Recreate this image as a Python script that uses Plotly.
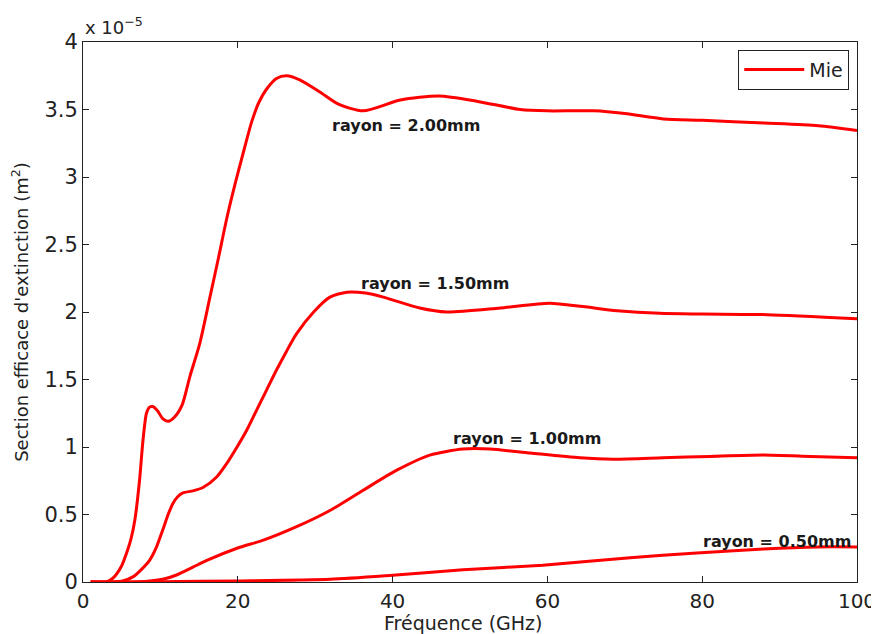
import plotly.graph_objects as go

# Frequency (GHz) and extinction cross-section (units of 1e-5 m^2), per radius
freq_r200 = [1, 3, 3.9, 5.0, 5.6, 6.2, 6.7, 7.3, 7.75, 8.2, 8.6, 9.0, 9.6, 10.3, 11.0, 11.8,
             12.8, 13.8, 15.1, 16.4, 17.5, 18.6, 19.7, 20.8, 21.8, 22.7, 23.7, 25.0, 26.3,
             28.0, 30.6, 33.0, 36.2, 41.0, 46.0, 51.0, 56.5, 60.0, 66.0, 70.0, 75.0, 80.0,
             88.0, 95.0, 100.0]
sigma_r200 = [0, 0, 0.03, 0.12, 0.21, 0.32, 0.46, 0.75, 1.05, 1.25, 1.295, 1.30, 1.27, 1.21,
              1.19, 1.22, 1.31, 1.52, 1.77, 2.11, 2.40, 2.70, 2.96, 3.20, 3.41, 3.55, 3.65,
              3.73, 3.75, 3.72, 3.63, 3.54, 3.49, 3.57, 3.60, 3.56, 3.50, 3.49, 3.49, 3.47,
              3.43, 3.42, 3.40, 3.38, 3.345]

freq_r150 = [1, 4, 5, 6.5, 7.5, 8.6, 9.5, 10.3, 11.0, 11.6, 12.2, 12.9, 14.2, 15.5, 17.3,
             18.6, 19.9, 21.2, 22.4, 23.7, 25.0, 26.3, 27.6, 29.8, 31.9, 34.1, 36.5, 38.8,
             43.5, 47, 53.9, 60.3, 64.6, 69, 74.5, 80, 88.4, 100]
sigma_r150 = [0, 0, 0.005, 0.04, 0.09, 0.16, 0.26, 0.385, 0.50, 0.58, 0.63, 0.66, 0.675, 0.70,
              0.78, 0.88, 1.00, 1.13, 1.27, 1.42, 1.57, 1.71, 1.84, 2.00, 2.11, 2.147, 2.14,
              2.11, 2.03, 2.00, 2.03, 2.065, 2.04, 2.01, 1.99, 1.985, 1.98, 1.95]

freq_r100 = [1, 7, 10.3, 12.0, 14.2, 16, 19.9, 23.3, 27.6, 31.9, 36.2, 40.6, 44.8, 49.1, 52.6,
             57.8, 64.2, 68.5, 74.9, 81, 87.9, 94, 100]
sigma_r100 = [0, 0.0, 0.02, 0.05, 0.11, 0.16, 0.25, 0.31, 0.41, 0.53, 0.68, 0.83, 0.94, 0.985,
              0.985, 0.955, 0.92, 0.91, 0.92, 0.93, 0.94, 0.93, 0.92]

freq_r050 = [1, 10, 20, 31.9, 40, 49.1, 59.4, 70.7, 79.3, 87.9, 95, 100]
sigma_r050 = [0, 0.002, 0.008, 0.02, 0.05, 0.09, 0.125, 0.18, 0.215, 0.245, 0.26, 0.26]

series = [
    (freq_r200, sigma_r200),
    (freq_r150, sigma_r150),
    (freq_r100, sigma_r100),
    (freq_r050, sigma_r050),
]

label_texts = ["rayon = 2.00mm", "rayon = 1.50mm", "rayon = 1.00mm", "rayon = 0.50mm"]
label_anchor_x = [41.7, 45.5, 57.3, 89.6]
label_anchor_y = [3.38, 2.21, 1.066, 0.30]

x_ticks = [0, 20, 40, 60, 80, 100]
y_ticks = [0, 0.5, 1, 1.5, 2, 2.5, 3, 3.5, 4]
y_tick_text = ["0", "0.5", "1", "1.5", "2", "2.5", "3", "3.5", "4"]

FONT = "DejaVu Sans"
fig = go.Figure()
for i, (fx, sy) in enumerate(series):
    fig.add_trace(go.Scatter(
        x=fx, y=sy, mode="lines", name="Mie",
        line=dict(color="#ff0000", width=3, shape="spline", smoothing=0.7),
        showlegend=(i == 0),
    ))

for t, ax_, ay_ in zip(label_texts, label_anchor_x, label_anchor_y):
    fig.add_annotation(x=ax_, y=ay_, xref="x", yref="y", text="<b>%s</b>" % t,
                       showarrow=False, font=dict(family=FONT, size=16, color="#1a1a1a"),
                       xanchor="center", yanchor="middle")

fig.add_annotation(x=0, y=1, xref="paper", yref="paper", text="x 10<sup>\u22125</sup>",
                   showarrow=False, xanchor="left", yanchor="bottom", yshift=2,
                   font=dict(family=FONT, size=18, color="#222222"))

fig.add_annotation(x=0.491, y=0, xref="paper", yref="paper", text="Fréquence (GHz)",
                   showarrow=False, xanchor="center", yanchor="top", yshift=-28,
                   font=dict(family=FONT, size=19, color="#222222"))

axis_common = dict(
    showline=True, linecolor="#222222", linewidth=1, mirror="ticks",
    ticks="inside", ticklen=6, tickcolor="#222222", showgrid=False, zeroline=False,
    tickfont=dict(family=FONT, size=21, color="#222222"), automargin=False,
)
x_axis_style = dict(axis_common, tickfont=dict(family=FONT, size=20, color="#222222"))

# The page body adds an 8px offset, so the figure is sized/margined to compensate.
fig.update_layout(
    width=871, height=626,
    margin=dict(l=75, r=22, t=34, b=52),
    paper_bgcolor="white", plot_bgcolor="white",
    font=dict(family=FONT, color="#222222"),
    xaxis=dict(range=[0, 100], tickvals=x_ticks, ticklabelstandoff=1, **x_axis_style),
    yaxis=dict(range=[0, 4], tickvals=y_ticks, ticktext=y_tick_text,
               title=dict(text="Section efficace d'extinction (m<sup>2</sup>)",
                          font=dict(family=FONT, size=18), standoff=12),
               **axis_common),
    legend=dict(x=0.99, y=0.986, xanchor="right", yanchor="top",
                bordercolor="#222222", borderwidth=1, bgcolor="white",
                itemwidth=60, tracegroupgap=0,
                font=dict(family=FONT, size=19, color="#222222")),
)

fig.write_html("out.html")
